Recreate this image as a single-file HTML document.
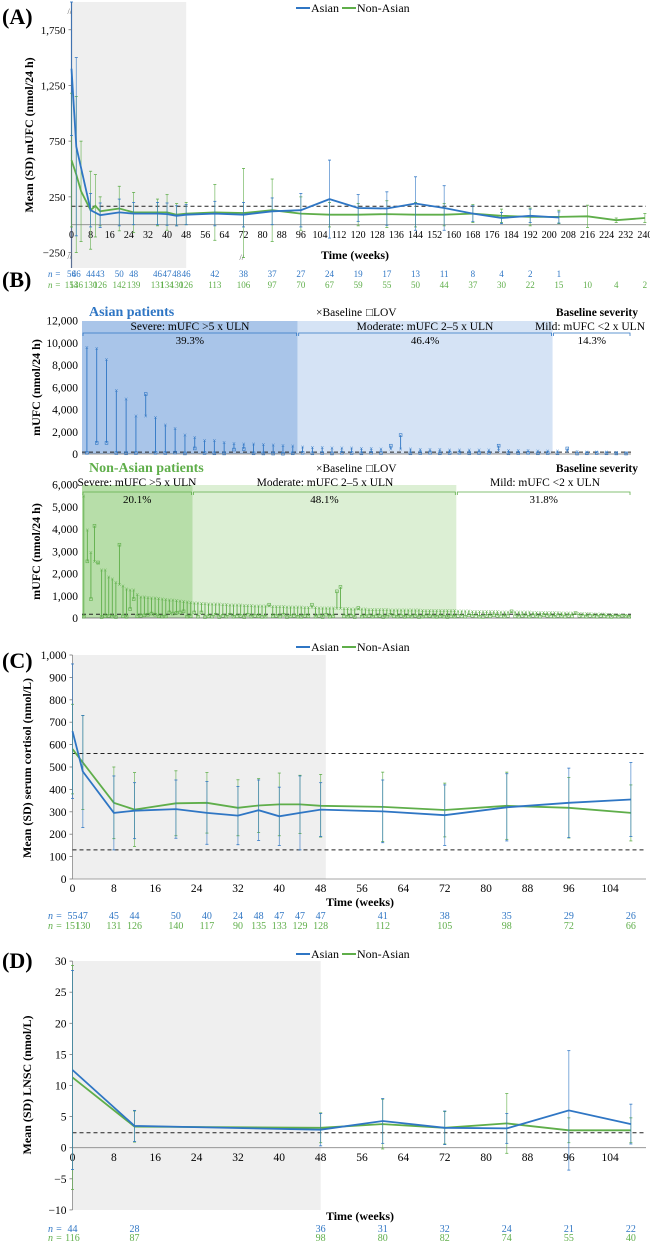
<!DOCTYPE html>
<html><head><meta charset="utf-8">
<style>
html,body{margin:0;padding:0;background:#fff;}
svg{display:block;font-family:"Liberation Serif",serif;}
</style></head>
<body>
<svg id="fig" width="650" height="1243" viewBox="0 0 650 1243" xmlns="http://www.w3.org/2000/svg">
<text x="2" y="24" font-size="22" font-weight="bold">(A)</text>
<text x="2" y="287" font-size="22" font-weight="bold">(B)</text>
<text x="2" y="668" font-size="22" font-weight="bold">(C)</text>
<text x="2" y="968" font-size="22" font-weight="bold">(D)</text>
</svg>
<script>
// ---------- Panel A data ----------
const aAsianWeeks = [0,2,8,12,20,26,36,40,44,48,60,72,84,96,108,120,132,144,156,168,180,192,204];
const aAsianMean  = [1400,700,130,85,110,100,100,95,80,90,100,90,120,130,230,150,145,190,150,100,60,80,65];
const aAsianSD    = [600,800,150,110,120,100,100,100,90,90,110,110,120,150,350,120,150,240,200,70,50,60,50];
const aNonWeeks   = [0,2,4,8,10,12,20,26,36,40,44,48,60,72,84,96,108,120,132,144,156,168,180,192,204,216,228,240];
const aNonMean    = [580,450,300,130,170,120,145,110,110,110,90,100,110,105,130,100,90,90,95,90,90,100,80,70,70,75,40,60];
const aNonSD      = [600,700,450,350,280,130,200,180,120,160,100,100,250,400,280,150,110,100,120,110,100,80,60,80,60,100,20,40];
const aXTicks = [0,8,16,24,32,40,48,56,64,72,80,88,96,104,112,120,128,136,144,152,160,168,176,184,192,200,208,216,224,232,240];
const aYTicks = [-250,250,750,1250,1750];
const aNAsianWeeks = [0,2,8,12,20,26,36,40,44,48,60,72,84,96,108,120,132,144,156,168,180,192,204];
const aNAsian = ["56","46","44","43","50","48","46","47","48","46","42","38","37","27","24","19","17","13","11","8","4","2","1"];
const aNNonWeeks = [0,2,8,12,20,26,36,40,44,48,60,72,84,96,108,120,132,144,156,168,180,192,204,216,228,240];
const aNNon = ["154","136","130","126","142","139","131","134","130","126","113","106","97","70","67","59","55","50","44","37","30","22","15","10","4","2"];
const aULN = 166;

// ---------- Panel B data ----------
const bAsianCounts = [22,26,8];
const bAsianPct = ["39.3%","46.4%","14.3%"];
const bAsianBase = [9600,9500,8500,5700,4950,3400,3400,3300,2600,2300,1700,1500,1200,1200,1050,950,900,900,850,800,750,700,
 650,600,580,560,540,520,500,480,470,450,440,430,420,400,390,380,370,360,350,340,330,320,310,300,290,280,
 250,230,210,200,190,170,150,130];
const bAsianLOV = [100,1000,1000,80,60,80,5400,100,80,120,50,500,80,60,50,400,450,60,50,40,30,60,
 100,60,80,50,100,80,60,100,80,750,1700,60,80,100,60,80,100,60,80,100,750,60,80,100,60,80,
 60,500,40,60,80,60,50,40];
const bNonCounts = [31,74,49];
const bNonPct = ["20.1%","48.1%","31.8%"];
const bNonBase = [5500,3950,2950,2550,2450,2150,2150,1850,1750,1600,1500,1450,1300,1250,1250,1050,950,950,930,910,900,880,860,840,820,800,780,760,740,720,700,
 680,670,660,650,640,635,630,620,610,600,595,590,585,580,570,560,555,550,545,540,535,530,525,520,515,510,505,500,495,490,
 485,480,475,470,465,460,455,450,445,440,435,430,425,420,415,410,405,400,395,390,385,380,378,375,372,370,368,365,362,360,
 358,355,352,350,348,346,344,342,340,338,336,334,333,332,
 320,315,310,305,300,298,295,292,290,288,285,282,280,278,275,272,270,268,265,262,260,258,255,252,250,248,245,242,240,235,
 230,225,220,215,210,205,200,195,190,185,180,170,160,150,140,130,120,110,100];
const bNonLOV = [60,2550,850,4150,2500,40,80,100,60,40,3300,80,50,400,850,80,100,120,150,200,150,80,60,70,250,200,230,250,300,60,80,
 250,60,250,40,80,60,150,40,100,60,150,60,80,100,40,150,60,100,80,50,60,600,80,100,60,150,40,80,100,60,
 50,100,80,600,60,100,40,150,60,80,1200,1400,80,60,100,40,450,60,80,100,60,80,100,40,60,150,80,60,100,50,
 80,60,100,40,60,80,100,60,50,80,60,40,80,60,
 100,80,60,120,100,80,60,50,100,80,120,100,80,60,100,300,80,60,100,80,60,100,80,60,120,100,80,60,100,80,
 60,100,80,220,100,80,60,100,80,60,100,80,60,50,80,60,100,80,60];
const bAsianYTicks = [0,2000,4000,6000,8000,10000,12000];
const bNonYTicks = [0,1000,2000,3000,4000,5000,6000];

// ---------- Panel C data ----------
const cWeeks = [0,2,8,12,20,26,32,36,40,44,48,60,72,84,96,108];
const cAsianMean = [660,480,295,305,312,295,283,307,280,295,310,302,285,320,340,355];
const cAsianSD   = [300,250,165,125,130,140,130,135,130,165,120,140,135,150,155,165];
const cNonMean   = [580,520,340,310,338,340,318,328,333,333,327,322,308,327,318,295];
const cNonSD     = [200,210,160,165,145,135,125,120,140,130,140,155,120,150,135,125];
const cXTicks = [0,8,16,24,32,40,48,56,64,72,80,88,96,104];
const cYTicks = [0,100,200,300,400,500,600,700,800,900,1000];
const cNAsian = ["55","47","45","44","50","40","24","48","47","47","47","41","38","35","29","26"];
const cNNon = ["151","130","131","126","140","117","90","135","133","129","128","112","105","98","72","66"];

// ---------- Panel D data ----------
const dWeeks = [0,12,48,60,72,84,96,108];
const dAsianMean = [12.5,3.5,2.9,4.3,3.2,3.1,6.0,3.8];
const dAsianSD   = [16,2.5,2.6,3.6,2.7,2.4,9.6,3.2];
const dNonMean   = [11.3,3.4,3.2,3.8,3.2,3.9,2.8,2.8];
const dNonSD     = [18,2.5,2.4,4.0,2.6,4.8,2.0,2.0];
const dXTicks = [0,8,16,24,32,40,48,56,64,72,80,88,96,104];
const dYTicks = [-10,-5,0,5,10,15,20,25,30];
const dNAsian = ["44","28","36","31","32","24","21","22"];
const dNNon = ["116","87","98","80","82","74","55","40"];

const BLUE = "#2f76c4", GREEN = "#5fae4a";
const NS = "http://www.w3.org/2000/svg";
const svg = document.getElementById('fig');
function mk(tag, attrs, parent, txt){
  const e = document.createElementNS(NS, tag);
  for (const k in attrs) e.setAttribute(k, attrs[k]);
  if (txt !== undefined) e.textContent = txt;
  (parent || svg).appendChild(e);
  return e;
}
function fmt(v){ return v < 0 ? "\u2212" + Math.abs(v).toLocaleString('en-US') : v.toLocaleString('en-US'); }

function legend(g, x, y){
  const l1 = mk('line',{x1:x,y1:y,x2:x+14,y2:y,stroke:BLUE,'stroke-width':2},g);
  
  
  const t1 = mk('text',{x:x+15,y:y+4,'font-size':12},g,'Asian');
  
  
  const l2 = mk('line',{x1:x+46,y1:y,x2:x+60,y2:y,stroke:GREEN,'stroke-width':2},g);
  
  
  const t2 = mk('text',{x:x+61,y:y+4,'font-size':12},g,'Non-Asian');
  
  
}

function series(g, weeks, mean, sd, sx, sy, color, name, clipTop){
  for (let i=0;i<weeks.length;i++){
    const x = sx(weeks[i]);
    let y1 = sy(mean[i]+sd[i]), y2 = sy(mean[i]-sd[i]);
    if (clipTop !== undefined) { y1 = Math.max(y1, clipTop); y2 = Math.max(y2, clipTop); }
    const eb = mk('line',{x1:x,y1:y1,x2:x,y2:y2,stroke:color,'stroke-width':0.8,opacity:0.75},g);
    
    
    const c1 = mk('line',{x1:x-1.5,y1:y1,x2:x+1.5,y2:y1,stroke:color,'stroke-width':0.8},g);
    
    
    const c2 = mk('line',{x1:x-1.5,y1:y2,x2:x+1.5,y2:y2,stroke:color,'stroke-width':0.8},g);
    
    
  }
  const pts = weeks.map((w,i)=> sx(w).toFixed(1)+','+sy(mean[i]).toFixed(1)).join(' ');
  const pl = mk('polyline',{points:pts,fill:'none',stroke:color,'stroke-width':1.8},g);
  
  
}

function axisTicks(g, xt, yt, sx, sy, x0, xAxisY, tickLabelY, xMax, fs){
  fs = fs || 11.5;
  for (const t of xt){
    const tx = mk('text',{x:sx(t),y:tickLabelY,'font-size':fs,'text-anchor':'middle'},g,String(t));
    
    
  }
  for (const t of yt){
    const ty = mk('text',{x:x0-6,y:sy(t)+4,'font-size':Math.max(fs,11),'text-anchor':'end'},g,fmt(t));
    
    
    const tk = mk('line',{x1:x0-3,y1:sy(t),x2:x0,y2:sy(t),stroke:'#777','stroke-width':0.8},g);
    
    
  }
  const xa = mk('line',{x1:x0,y1:xAxisY,x2:xMax,y2:xAxisY,stroke:'#888','stroke-width':0.8},g);
  
  
}

function nRows(g, weeksA, labA, weeksN, labN, sx, yA, yN, fs){
  fs = fs || 10;
  const p1 = mk('text',{x:48,y:yA,'font-size':fs,fill:BLUE,'font-style':'italic'},g,'n =');
  
  
  const p2 = mk('text',{x:48,y:yN,'font-size':fs,fill:GREEN,'font-style':'italic'},g,'n =');
  
  
  for (let i=0;i<weeksA.length;i++){
    const t = mk('text',{x:sx(weeksA[i]),y:yA,'font-size':fs,fill:BLUE,'text-anchor':'middle'},g,labA[i]);
    
    
  }
  for (let i=0;i<weeksN.length;i++){
    const t = mk('text',{x:sx(weeksN[i]),y:yN,'font-size':fs,fill:GREEN,'text-anchor':'middle'},g,labN[i]);
    
    
  }
}

// ================= Panel A =================
(function(){
  const g = mk('g',{});
  
  
  const x0 = 71.5, sx = w => x0 + w*2.389;
  const zeroY = 224.7, sy = v => zeroY - v*55.7/500;
  const sh = mk('rect',{x:x0,y:2,width:sx(48)-x0,height:266,fill:'#efefef'},g);
  
  
  const ya = mk('line',{x1:x0,y1:2,x2:x0,y2:268,stroke:'#5a6f94','stroke-width':1.2},g);
  
  
  const br1 = mk('text',{x:x0-4,y:14,'font-size':8,fill:'#555'},g,'//');
  
  
  const br2 = mk('text',{x:x0-4,y:259,'font-size':8,fill:'#555'},g,'//');
  
  
  const br3 = mk('text',{x:sx(72)-4,y:260,'font-size':8,fill:'#555'},g,'//');
  
  
  axisTicks(g, aXTicks, aYTicks, sx, sy, x0, zeroY, 238, 646, 10);
  const dl = mk('line',{x1:x0,y1:sy(aULN),x2:646,y2:sy(aULN),stroke:'#222','stroke-width':1,'stroke-dasharray':'4,3'},g);
  
  
  series(g, aNonWeeks, aNonMean, aNonSD, sx, sy, GREEN, 'non-asian', 2);
  series(g, aAsianWeeks, aAsianMean, aAsianSD, sx, sy, BLUE, 'asian', 2);
  const yt = mk('text',{x:0,y:0,'font-size':12,'font-weight':'bold','text-anchor':'middle',transform:'translate(33,135) rotate(-90)'},g,'Mean (SD) mUFC (nmol/24 h)');
  
  
  const xt = mk('text',{x:355,y:259,'font-size':12,'font-weight':'bold','text-anchor':'middle'},g,'Time (weeks)');
  
  
  legend(g, 296, 8);
  nRows(g, aNAsianWeeks, aNAsian, aNNonWeeks, aNNon, sx, 277, 288, 9);
})();

// ================= Panel B =================
function severityChart(cfg){
  const g = mk('g',{});
  
  
  const xL = 82, xR = 631;
  const n = cfg.base.length;
  const step = (xR - xL) / n;
  const sx = i => xL + step*(i+0.5);
  const sy = v => cfg.zeroY - v*cfg.pxPerUnit;
  let start = 0;
  for (let k=0;k<3;k++){
    const x1 = xL + step*start, x2 = xL + step*(start+cfg.counts[k]);
    if (cfg.fills[k]){
      const r = mk('rect',{x:x1,y:cfg.topY,width:x2-x1,height:cfg.zeroY-cfg.topY,fill:cfg.fills[k]},g);
      
      
    }
    const by = cfg.bracketY;
    const bl = mk('path',{d:`M${x1+1},${by+3}V${by}H${x2-1}V${by+3}`,fill:'none',stroke:cfg.color,'stroke-width':0.8},g);
    
    
    const pt = mk('text',{x:(x1+x2)/2,y:by+11,'font-size':11,'text-anchor':'middle'},g,cfg.pct[k]);
    
    
    const ht = mk('text',{x:cfg.hdrX[k],y:cfg.hdrY,'font-size':11.5,'text-anchor':'middle'},g,cfg.hdr[k]);
    
    
    start += cfg.counts[k];
  }
  for (const t of cfg.yticks){
    const ty = mk('text',{x:xL-4,y:sy(t)+4,'font-size':11.5,'text-anchor':'end'},g,fmt(t));
    
    
  }
  const xa = mk('line',{x1:xL,y1:cfg.zeroY,x2:xR,y2:cfg.zeroY,stroke:'#666','stroke-width':0.8},g);
  
  
  const dl = mk('line',{x1:xL,y1:sy(166),x2:xR,y2:sy(166),stroke:'#222','stroke-width':1,'stroke-dasharray':'4,3'},g);
  
  
  for (let i=0;i<n;i++){
    const x = sx(i), yb = sy(cfg.base[i]), yl = sy(cfg.lov[i]);
    const ln = mk('line',{x1:x,y1:yb,x2:x,y2:yl,stroke:cfg.color,'stroke-width':0.9},g);
    
    
    const bm = mk('text',{x:x,y:yb+2.5,'font-size':7,fill:cfg.color,'text-anchor':'middle'},g,'\u00d7');
    
    
    const lm = mk('rect',{x:x-1.4,y:yl-1.4,width:2.8,height:2.8,fill:'none',stroke:cfg.color,'stroke-width':0.6},g);
    
    
  }
  const tt = mk('text',{x:89,y:cfg.titleY,'font-size':14,'font-weight':'bold',fill:cfg.color},g,cfg.title);
  
  
  const lg1 = mk('text',{x:316,y:cfg.titleY,'font-size':11.5},g,'\u00d7Baseline');
  
  
  const lg2 = mk('text',{x:366,y:cfg.titleY,'font-size':11.5},g,'\u25a1LOV');
  
  
  const bs = mk('text',{x:638,y:cfg.titleY,'font-size':11.5,'font-weight':'bold','text-anchor':'end'},g,'Baseline severity');
  
  
  const yt = mk('text',{x:0,y:0,'font-size':12,'font-weight':'bold','text-anchor':'middle',transform:`translate(40,${(cfg.topY+cfg.zeroY)/2}) rotate(-90)`},g,'mUFC (nmol/24 h)');
  
  
}
severityChart({name:'panel-b-asian-chart', base:bAsianBase, lov:bAsianLOV, counts:bAsianCounts, pct:bAsianPct,
  fills:['#a9c5e9','#d5e3f5',null], color:BLUE, zeroY:454, topY:321, pxPerUnit:133.3/12000, yticks:bAsianYTicks,
  bracketY:333, hdrY:330, hdrX:[190,425,590], hdr:['Severe: mUFC >5 x ULN','Moderate: mUFC 2\u20135 x ULN','Mild: mUFC <2 x ULN'],
  title:'Asian patients', titleY:316});
severityChart({name:'panel-b-non-asian-chart', base:bNonBase, lov:bNonLOV, counts:bNonCounts, pct:bNonPct,
  fills:['#b7dea9','#dcefd4',null], color:GREEN, zeroY:618, topY:485, pxPerUnit:133.3/6000, yticks:bNonYTicks,
  bracketY:492, hdrY:486, hdrX:[137,325,545], hdr:['Severe: mUFC >5 x ULN','Moderate: mUFC 2\u20135 x ULN','Mild: mUFC <2 x ULN'],
  title:'Non-Asian patients', titleY:472});

// ================= Panel C =================
(function(){
  const g = mk('g',{});
  
  
  const x0 = 72.5, sx = w => x0 + w*5.17;
  const zeroY = 879, sy = v => zeroY - v*0.224;
  const sh = mk('rect',{x:x0,y:655,width:sx(49)-x0,height:224,fill:'#efefef'},g);
  
  
  const ya = mk('line',{x1:x0,y1:655,x2:x0,y2:zeroY,stroke:'#888','stroke-width':0.8},g);
  
  
  axisTicks(g, cXTicks, cYTicks, sx, sy, x0, zeroY, 892, 646);
  for (const v of [560,130]){
    const dl = mk('line',{x1:x0,y1:sy(v),x2:646,y2:sy(v),stroke:'#222','stroke-width':1,'stroke-dasharray':'4,3'},g);
    
    
  }
  series(g, cWeeks, cNonMean, cNonSD, sx, sy, GREEN, 'non-asian', 655);
  series(g, cWeeks, cAsianMean, cAsianSD, sx, sy, BLUE, 'asian', 655);
  const yt = mk('text',{x:0,y:0,'font-size':12,'font-weight':'bold','text-anchor':'middle',transform:'translate(31,768) rotate(-90)'},g,'Mean (SD) serum cortisol (nmol/L)');
  
  
  const xt = mk('text',{x:360,y:906,'font-size':12,'font-weight':'bold','text-anchor':'middle'},g,'Time (weeks)');
  
  
  legend(g, 296, 647);
  nRows(g, cWeeks, cNAsian, cWeeks, cNNon, sx, 919, 929);
})();

// ================= Panel D =================
(function(){
  const g = mk('g',{});
  
  
  const x0 = 72.5, sx = w => x0 + w*5.17;
  const zeroY = 1147.7, sy = v => zeroY - v*6.22;
  const sh = mk('rect',{x:x0,y:961,width:sx(48)-x0,height:249,fill:'#efefef'},g);
  
  
  const ya = mk('line',{x1:x0,y1:961,x2:x0,y2:1210,stroke:'#888','stroke-width':0.8},g);
  
  
  axisTicks(g, dXTicks, dYTicks, sx, sy, x0, zeroY, 1161, 646);
  const dl = mk('line',{x1:x0,y1:sy(2.4),x2:646,y2:sy(2.4),stroke:'#222','stroke-width':1,'stroke-dasharray':'4,3'},g);
  
  
  series(g, dWeeks, dNonMean, dNonSD, sx, sy, GREEN, 'non-asian', 961);
  series(g, dWeeks, dAsianMean, dAsianSD, sx, sy, BLUE, 'asian', 961);
  const yt = mk('text',{x:0,y:0,'font-size':12,'font-weight':'bold','text-anchor':'middle',transform:'translate(31,1085) rotate(-90)'},g,'Mean (SD) LNSC (nmol/L)');
  
  
  const xt = mk('text',{x:360,y:1220,'font-size':12,'font-weight':'bold','text-anchor':'middle'},g,'Time (weeks)');
  
  
  legend(g, 296, 954);
  nRows(g, dWeeks, dNAsian, dWeeks, dNNon, sx, 1232, 1241);
})();
</script>
</body></html>
